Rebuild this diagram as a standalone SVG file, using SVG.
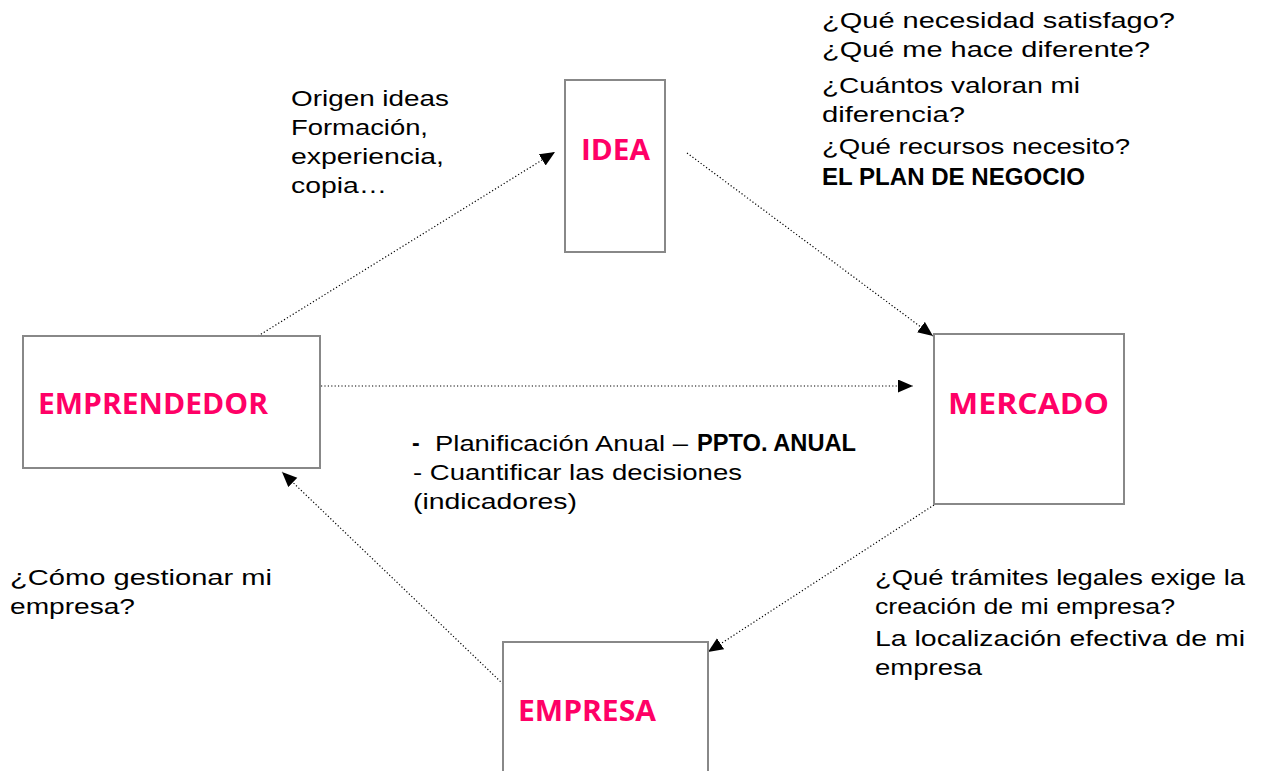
<svg xmlns="http://www.w3.org/2000/svg" width="1261" height="771" viewBox="0 0 1261 771">
<style>
.box{fill:#fff;stroke:#888;stroke-width:2}
.lbl{font-family:"Open Sans","Liberation Sans",sans-serif;font-weight:bold;font-size:28px;fill:#ff0066}
.t{font-family:"Liberation Sans",Arial,sans-serif;font-size:22px;fill:#000}
.b{font-family:"Liberation Sans",Arial,sans-serif;font-weight:bold;font-size:23px;fill:#000}
.c{fill:none;stroke:#000;stroke-width:1.2;stroke-dasharray:1.2 2.2;marker-end:url(#ah)}
</style>
<defs>
<marker id="ah" markerUnits="userSpaceOnUse" markerWidth="16" markerHeight="14" refX="15" refY="6.5" orient="auto">
<path d="M0,0 L15,6.5 L0,13 z" fill="#000"/>
</marker>
</defs>
<rect width="1261" height="771" fill="#fff"/>
<g id="connectors">
<line class="c" x1="258" y1="336" x2="555" y2="152"/>
<line class="c" x1="687" y1="153" x2="933" y2="336"/>
<line class="c" x1="321" y1="386" x2="913" y2="386"/>
<line class="c" x1="934" y1="505" x2="708" y2="652"/>
<line class="c" x1="503" y1="684" x2="282" y2="472"/>
</g>
<g id="idea">
<rect class="box" x="565" y="80" width="100" height="172"/>
<text class="lbl" x="581" y="160" textLength="69" lengthAdjust="spacingAndGlyphs">IDEA</text>
</g>
<g id="emprendedor">
<rect class="box" x="23" y="336" width="297" height="132"/>
<text class="lbl" x="38" y="414" textLength="230" lengthAdjust="spacingAndGlyphs">EMPRENDEDOR</text>
</g>
<g id="mercado">
<rect class="box" x="934" y="334" width="190" height="170"/>
<text class="lbl" x="948" y="414" textLength="161" lengthAdjust="spacingAndGlyphs">MERCADO</text>
</g>
<g id="empresa">
<rect class="box" x="503" y="642" width="205" height="140"/>
<text class="lbl" x="518" y="721" textLength="138" lengthAdjust="spacingAndGlyphs">EMPRESA</text>
</g>
<g id="texts">
<text class="t" x="291" y="106" textLength="158" lengthAdjust="spacingAndGlyphs">Origen ideas</text>
<text class="t" x="291" y="135" textLength="137" lengthAdjust="spacingAndGlyphs">Formación,</text>
<text class="t" x="291" y="164" textLength="153" lengthAdjust="spacingAndGlyphs">experiencia,</text>
<text class="t" x="291" y="193" textLength="96" lengthAdjust="spacingAndGlyphs">copia…</text>

<text class="t" x="822" y="28" textLength="353" lengthAdjust="spacingAndGlyphs">¿Qué necesidad satisfago?</text>
<text class="t" x="822" y="57" textLength="328" lengthAdjust="spacingAndGlyphs">¿Qué me hace diferente?</text>
<text class="t" x="822" y="93" textLength="258" lengthAdjust="spacingAndGlyphs">¿Cuántos valoran mi</text>
<text class="t" x="822" y="122" textLength="143" lengthAdjust="spacingAndGlyphs">diferencia?</text>
<text class="t" x="822" y="154" textLength="308" lengthAdjust="spacingAndGlyphs">¿Qué recursos necesito?</text>
<text class="b" x="822" y="185" textLength="263" lengthAdjust="spacingAndGlyphs">EL PLAN DE NEGOCIO</text>

<text class="b" x="412" y="451" font-size="30">-</text>
<text class="t" x="435" y="451" textLength="253" lengthAdjust="spacingAndGlyphs">Planificación Anual –</text>
<text class="b" x="697" y="451" font-size="21" textLength="159" lengthAdjust="spacingAndGlyphs">PPTO. ANUAL</text>
<text class="t" x="413" y="480" textLength="329" lengthAdjust="spacingAndGlyphs">- Cuantificar las decisiones</text>
<text class="t" x="413" y="509" textLength="164" lengthAdjust="spacingAndGlyphs">(indicadores)</text>

<text class="t" x="10" y="585" textLength="262" lengthAdjust="spacingAndGlyphs">¿Cómo gestionar mi</text>
<text class="t" x="10" y="614" textLength="125" lengthAdjust="spacingAndGlyphs">empresa?</text>

<text class="t" x="875" y="585" textLength="370" lengthAdjust="spacingAndGlyphs">¿Qué trámites legales exige la</text>
<text class="t" x="875" y="614" textLength="300" lengthAdjust="spacingAndGlyphs">creación de mi empresa?</text>
<text class="t" x="875" y="646" textLength="370" lengthAdjust="spacingAndGlyphs">La localización efectiva de mi</text>
<text class="t" x="875" y="675" textLength="107" lengthAdjust="spacingAndGlyphs">empresa</text>
</g>
</svg>
